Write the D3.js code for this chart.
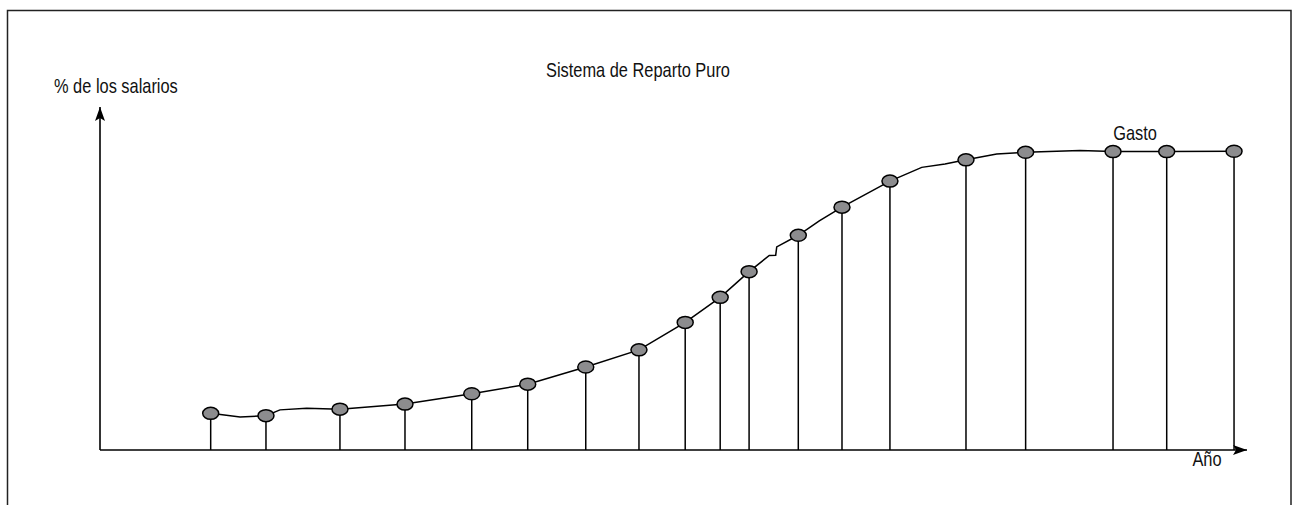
<!DOCTYPE html>
<html>
<head>
<meta charset="utf-8">
<script src="https://cdn.jsdelivr.net/npm/d3@7"></script>
<style>
  html, body { margin: 0; padding: 0; background: #fff; }
  svg { display: block; }
  text { font-family: "Liberation Sans", Arial, sans-serif; fill: #111; }
</style>
</head>
<body>
<script>
// ---- data (year index 0-100, % of salaries 0-100 on the axis scale) ----
const years   = [9.65, 14.47, 20.92, 26.59, 32.41, 37.29, 42.35, 46.99, 51.02, 54.07,
                 56.59, 60.88, 64.69, 68.87, 75.50, 80.70, 88.32, 93.00, 98.87];
const gasto   = [10.7, 10.0, 11.9, 13.4, 16.4, 19.2, 24.2, 29.2, 37.2, 44.5,
                 52.0, 62.6, 70.8, 78.4, 84.6, 86.8, 87.0, 87.0, 87.1];
// extra vertices of the hand-drawn connecting line
const bendYears  = [12.21, 15.69, 18.02, 58.35, 58.91, 59.00, 62.71, 71.64, 73.67, 78.18, 85.44];
const bendValues = [9.65, 11.7, 12.2, 56.7, 56.8, 59.2, 66.8, 82.4, 83.4, 86.3, 87.3];

const titleText = "Sistema de Reparto Puro";
const yLabel = "% de los salarios";
const xLabel = "Año";
const seriesLabel = "Gasto";

const W = 1293, H = 505;
const svg = d3.select("body").append("svg").attr("width", W).attr("height", H);

// frame
svg.append("rect").attr("x", 7.5).attr("y", 10.5).attr("width", 1283.5).attr("height", 520)
  .attr("fill", "none").attr("stroke", "#222").attr("stroke-width", 1.5);

const x = d3.scaleLinear().domain([0, 100]).range([100, 1247]);
const y = d3.scaleLinear().domain([0, 100]).range([450, 107]);

const defs = svg.append("defs");
defs.append("marker").attr("id", "arr").attr("viewBox", "0 0 14 10")
  .attr("refX", 14).attr("refY", 5).attr("markerWidth", 14).attr("markerHeight", 10)
  .attr("markerUnits", "userSpaceOnUse").attr("orient", "auto")
  .append("path").attr("d", "M0,0 L14,5 L0,10 L3,5 Z").attr("fill", "#000");

// axes
svg.append("line").attr("x1", x(0)).attr("y1", y(0)).attr("x2", x(100)).attr("y2", y(0))
  .attr("stroke", "#000").attr("stroke-width", 1.6).attr("marker-end", "url(#arr)");
svg.append("line").attr("x1", x(0)).attr("y1", y(0)).attr("x2", x(0)).attr("y2", y(100))
  .attr("stroke", "#000").attr("stroke-width", 1.6).attr("marker-end", "url(#arr)");

const pts = years.map((yr, i) => ({yr, v: gasto[i]}));
const linePts = pts.concat(bendYears.map((yr, i) => ({yr, v: bendValues[i]})))
  .sort((a, b) => a.yr - b.yr);

// drop lines
svg.append("g").selectAll("line").data(pts).join("line")
  .attr("x1", d => x(d.yr)).attr("x2", d => x(d.yr))
  .attr("y1", d => y(d.v)).attr("y2", y(0))
  .attr("stroke", "#000").attr("stroke-width", 1.5);

// curve
svg.append("path").datum(linePts)
  .attr("d", d3.line().x(d => x(d.yr)).y(d => y(d.v)))
  .attr("fill", "none").attr("stroke", "#000").attr("stroke-width", 1.5);

// points
svg.append("g").selectAll("ellipse").data(pts).join("ellipse")
  .attr("cx", d => x(d.yr)).attr("cy", d => y(d.v))
  .attr("rx", 8).attr("ry", 6)
  .attr("fill", "#8c8c8e").attr("stroke", "#000").attr("stroke-width", 1.5);

// texts (narrow look: horizontally condensed)
function label(txt, cx, by, anchor) {
  svg.append("text")
    .attr("transform", `translate(${cx},${by}) scale(0.82,1)`)
    .attr("text-anchor", anchor).attr("font-size", 20).text(txt);
}
label(titleText, 638, 77, "middle");
label(yLabel, 54, 93, "start");
label(seriesLabel, 1135, 140, "middle");
label(xLabel, 1207, 466, "middle");
</script>
</body>
</html>
